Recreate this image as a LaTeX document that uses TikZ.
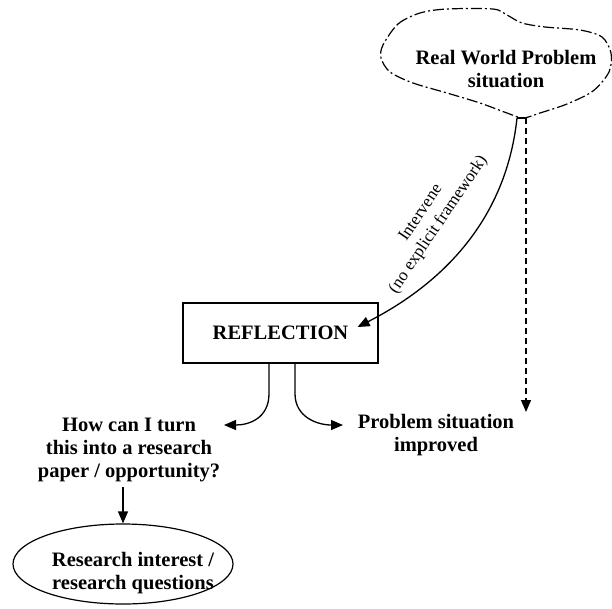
\documentclass[tikz,border=0pt]{standalone}
\usepackage{fontspec}
\setmainfont{Liberation Serif}
\usetikzlibrary{arrows.meta,shapes.geometric,calc}
\begin{document}
\begin{tikzpicture}[x=1pt,y=-1pt,
  arr/.style={-{Triangle[length=12pt,width=10pt]}},
  line/.style={line width=1.3pt},
  boldtxt/.style={font=\fontsize{20.5}{23}\selectfont\bfseries, align=center, inner sep=0pt},
  cloudline/.style={line width=1.2pt, dash pattern=on 11pt off 3pt on 2pt off 3pt}
]
\useasboundingbox (0,0) rectangle (612,608);

% problem cloud
\draw[cloudline] plot[smooth cycle, tension=0.5] coordinates {
  (383,45) (398,24) (420,13) (447,9) (493,9) (507,15) (522,23) (545,27)
  (580,30) (602,37) (611,53) (609,72) (593,91) (567,104) (540,113) (523,118)
  (507,113) (480,103) (447,93) (413,83) (390,72) (381,58)};
\node[boldtxt] (world) at (506,69) {Real World Problem\\situation};

% outlet at the bottom of the cloud
\coordinate (outL) at (517,118);
\coordinate (outR) at (526,118);
\draw[line width=1.2pt] (outL) -- (outR);

% reflection box
\node[draw, line width=1.2pt, minimum width=195pt, minimum height=60pt,
      boldtxt, inner sep=0pt] (refl) at (280.5,333) {REFLECTION};

% intervene arrow
\coordinate (intTip) at ($(refl.east)+(-21,-6)$);
\draw[line, arr] (outL) .. controls (505,230) and (430,290) .. (intTip);
\node[font=\fontsize{17}{21}\selectfont, align=center, rotate=56, inner sep=0pt]
  (intlbl) at (430,219) {Intervene\\(no explicit framework)};

% dashed direct path
\node[boldtxt] (improved) at (436,435) {Problem situation\\improved};
\coordinate (dashTip) at (526,412);
\draw[line width=1.3pt, dash pattern=on 6pt off 4pt, arr] (outR) -- (dashTip);

% research question text and ellipse
\node[boldtxt] (question) at (129,450) {How can I turn\\this into a research\\paper / opportunity?};
\node[draw, ellipse, line width=1.2pt, minimum width=220pt, minimum height=80pt] (interest) at (123,564) {};
\node[boldtxt] (intlabel) at (133,573) {Research interest /\\research questions};

% branches out of the reflection box
\coordinate (bL) at ($(refl.south)+(-11.5,0)$);
\coordinate (bR) at ($(refl.south)+(14.5,0)$);
\coordinate (tipL) at (224,425);
\coordinate (tipR) at (343,425);
\draw[line, arr] (bL) -- ++(0,30) .. controls +(0,24) and (250,425) .. (tipL);
\draw[line, arr] (bR) -- ++(0,30) .. controls +(0,24) and (318,425) .. (tipR);

% question to interest
\draw[line width=1.2pt, arr] ($(question.south -| interest.north)+(0,5)$) -- (interest.north);
\end{tikzpicture}
\end{document}
